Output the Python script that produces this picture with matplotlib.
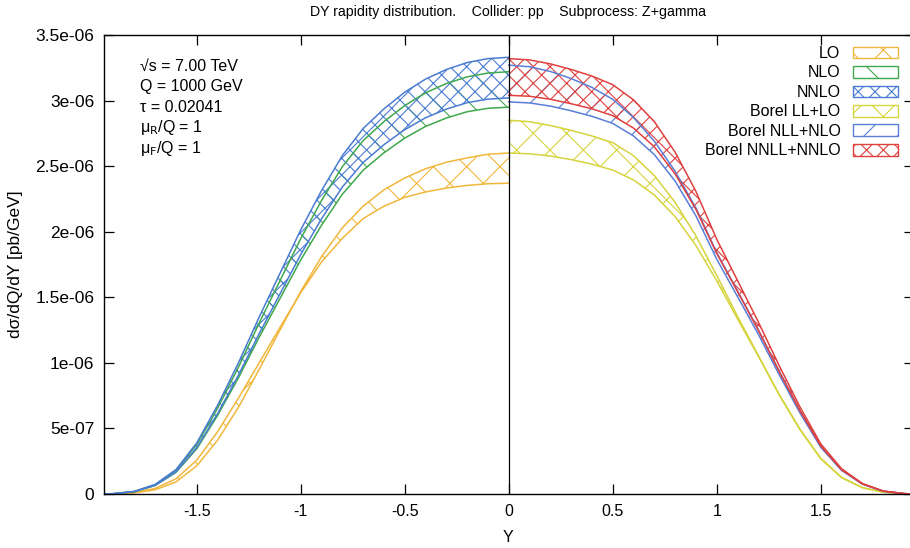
import matplotlib
matplotlib.use("Agg")
import matplotlib.pyplot as plt
from matplotlib.patches import Patch

plt.rcParams['font.family'] = ['Liberation Sans', 'DejaVu Sans']
plt.rcParams['hatch.linewidth'] = 0.8

# |Y| grid (rapidity), left half uses -|Y|
absY = [0.0, 0.1, 0.2, 0.3, 0.4, 0.5, 0.6, 0.7, 0.8, 0.9, 1.0,
        1.1, 1.2, 1.3, 1.4, 1.5, 1.6, 1.7, 1.8, 1.9, 1.946]

# values in units of 1e-6 pb/GeV
LO_up = [2.600, 2.591, 2.563, 2.530, 2.480, 2.410, 2.320, 2.195, 2.030, 1.810, 1.545,
         1.250, 0.950, 0.660, 0.410, 0.215, 0.092, 0.032, 0.008, 0.001, 0.0]
LO_lo = [2.370, 2.366, 2.353, 2.333, 2.303, 2.262, 2.195, 2.100, 1.950, 1.770, 1.535,
         1.270, 1.000, 0.730, 0.475, 0.258, 0.116, 0.043, 0.011, 0.001, 0.0]
NLO_up = [3.220, 3.210, 3.181, 3.130, 3.059, 2.962, 2.840, 2.695, 2.496, 2.238, 1.948,
          1.626, 1.304, 0.966, 0.654, 0.377, 0.180, 0.071, 0.019, 0.003, 0.0]
NLO_lo = [2.950, 2.941, 2.915, 2.867, 2.803, 2.714, 2.602, 2.469, 2.286, 2.050, 1.785,
          1.490, 1.195, 0.885, 0.599, 0.345, 0.165, 0.065, 0.018, 0.002, 0.0]
NNLO_up = [3.330, 3.320, 3.290, 3.237, 3.164, 3.064, 2.937, 2.787, 2.581, 2.314, 2.015,
           1.682, 1.349, 0.999, 0.676, 0.390, 0.186, 0.073, 0.020, 0.003, 0.0]
NNLO_lo = [3.020, 3.011, 2.984, 2.935, 2.869, 2.778, 2.664, 2.528, 2.341, 2.099, 1.827,
           1.525, 1.223, 0.906, 0.613, 0.353, 0.169, 0.066, 0.018, 0.002, 0.0]

BLL_up = [2.850, 2.839, 2.810, 2.773, 2.730, 2.679, 2.579, 2.428, 2.223, 1.967, 1.667,
          1.354, 1.055, 0.755, 0.490, 0.268, 0.125, 0.048, 0.014, 0.002, 0.0]
BLL_lo = [2.600, 2.594, 2.577, 2.550, 2.515, 2.470, 2.395, 2.280, 2.115, 1.895, 1.625,
          1.335, 1.050, 0.760, 0.495, 0.272, 0.127, 0.049, 0.014, 0.002, 0.0]
BNLL_up = [3.270, 3.258, 3.222, 3.168, 3.100, 3.010, 2.870, 2.690, 2.460, 2.180, 1.840,
           1.548, 1.252, 0.937, 0.637, 0.367, 0.186, 0.077, 0.022, 0.003, 0.0]
BNLL_lo = [2.990, 2.982, 2.958, 2.922, 2.880, 2.826, 2.730, 2.588, 2.385, 2.120, 1.790,
           1.505, 1.217, 0.910, 0.618, 0.356, 0.180, 0.075, 0.021, 0.003, 0.0]
BNNLL_up = [3.320, 3.310, 3.280, 3.237, 3.187, 3.121, 3.005, 2.839, 2.606, 2.307, 1.942,
            1.627, 1.311, 0.979, 0.664, 0.382, 0.193, 0.080, 0.023, 0.003, 0.0]
BNNLL_lo = [3.040, 3.033, 3.010, 2.976, 2.937, 2.885, 2.790, 2.647, 2.440, 2.170, 1.834,
            1.543, 1.248, 0.934, 0.635, 0.366, 0.185, 0.077, 0.022, 0.003, 0.0]

labels = ["LO", "NLO", "NNLO", "Borel LL+LO", "Borel NLL+NLO", "Borel NNLL+NNLO"]
colors = ["#f0b73c", "#3fa84c", "#4a7cd2", "#d6d43c", "#5a7fd8", "#e0403e"]
hatches = ["x", "\\", "xx", "x", "/", "xx"]

ytick_vals = [0, 0.5, 1.0, 1.5, 2.0, 2.5, 3.0, 3.5]
ytick_labels = ["0", "5e-07", "1e-06", "1.5e-06", "2e-06", "2.5e-06", "3e-06", "3.5e-06"]
xtick_vals = [-1.5, -1.0, -0.5, 0.0, 0.5, 1.0, 1.5]
xtick_labels = ["-1.5", "-1", "-0.5", "0", "0.5", "1", "1.5"]

info = ["\u221as = 7.00 TeV", "Q = 1000 GeV", "\u03c4 = 0.02041",
        "\u03bc$_\\mathrm{R}$/Q = 1", "\u03bc$_\\mathrm{F}$/Q = 1"]

W, H = 910, 548
fig = plt.figure(figsize=(W / 100, H / 100), dpi=100)
xl, xr = -1.946, 1.946
left_px, top_px, bot_px = 104, 35, 494
ax_w_px = (xr - xl) * 208.0
ax = fig.add_axes([left_px / W, 1 - bot_px / H, ax_w_px / W, (bot_px - top_px) / H])

left_x = [-a for a in absY]
right_x = list(absY)
bands = [
    (left_x, LO_up, LO_lo),
    (left_x, NLO_up, NLO_lo),
    (left_x, NNLO_up, NNLO_lo),
    (right_x, BLL_up, BLL_lo),
    (right_x, BNLL_up, BNLL_lo),
    (right_x, BNNLL_up, BNNLL_lo),
]
scale = 1e-6
for (xs, up, lo), c, h in zip(bands, colors, hatches):
    u = [v * scale for v in up]
    l = [v * scale for v in lo]
    ax.fill_between(xs, l, u, facecolor="none", edgecolor=c, hatch=h, linewidth=0)
    ax.plot(xs, u, color=c, lw=1.1)
    ax.plot(xs, l, color=c, lw=1.1)

ax.axvline(0, color="black", lw=0.9)
ax.set_xlim(xl, xr)
ax.set_ylim(0, 3.5e-6)
ax.set_yticks([v * scale for v in ytick_vals])
ax.set_yticklabels(ytick_labels)
ax.set_xticks(xtick_vals)
ax.set_xticklabels(xtick_labels)
ax.tick_params(direction="in", length=7, width=0.9, top=True, right=True,
               pad=7, colors="black")
ax.tick_params(axis="y", labelsize=12.5)
ax.tick_params(axis="x", labelsize=11.5)
for s in ax.spines.values():
    s.set_linewidth(1.0)

ax.set_ylabel("d\u03c3/dQ/dY [pb/GeV]", fontsize=12.5, labelpad=9)
fig.text(508 / W, 1 - 538 / H, "Y", ha="center", va="center", fontsize=11.5)
fig.text(508 / W, 1 - 12 / H,
         "DY rapidity distribution.    Collider: pp    Subprocess: Z+gamma",
         ha="center", va="center", fontsize=10.2)

ys = [66, 87, 107, 128, 149]
for t, yp in zip(info, ys):
    fig.text(140 / W, 1 - yp / H, t, ha="left", va="center", fontsize=11.5)

handles = [Patch(facecolor="none", edgecolor=c, hatch=h, lw=1.0)
           for c, h in zip(colors, hatches)]
leg = ax.legend(handles, labels, loc="upper right",
                bbox_to_anchor=(898 / W, 1 - 46 / H), bbox_transform=fig.transFigure,
                frameon=False, markerfirst=False, fontsize=11.5,
                handlelength=2.8, handleheight=0.75, labelspacing=0.28,
                handletextpad=0.8, borderaxespad=0, borderpad=0)

fig.savefig("out.png", dpi=100)
